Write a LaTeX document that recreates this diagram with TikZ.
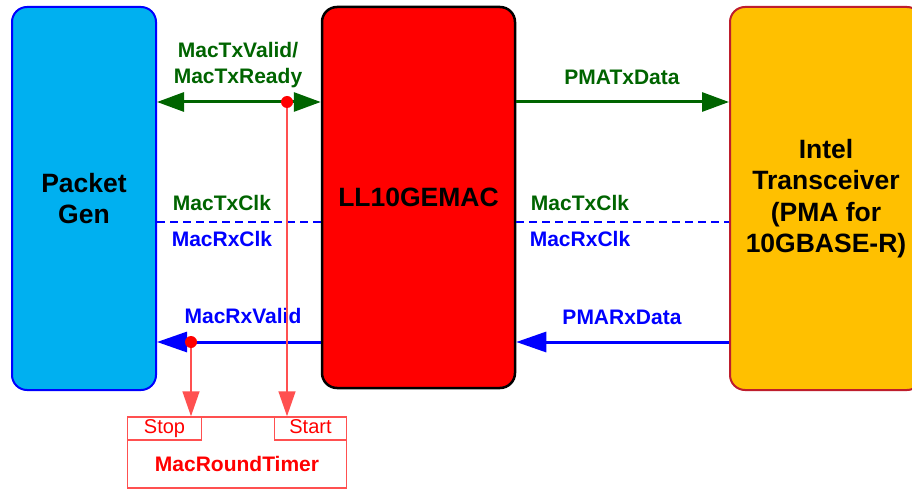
\documentclass[tikz,border=0pt]{standalone}
\usepackage{fontspec}
\setmainfont{Liberation Sans}
\usetikzlibrary{arrows.meta}
\usetikzlibrary{positioning}
\definecolor{busgreen}{RGB}{0,100,0}
\definecolor{gencyan}{RGB}{0,176,240}
\definecolor{xcvrorange}{RGB}{255,192,0}
\definecolor{xcvrborder}{RGB}{190,30,45}
\definecolor{probered}{RGB}{255,80,80}
\tikzset{
  block/.style={draw, rounded corners=15pt, line width=2pt, align=center, inner sep=0pt,
    font=\fontsize{26.5}{31.5}\selectfont\bfseries},
  sig/.style={font=\fontsize{21}{26}\selectfont\bfseries, align=center, inner sep=0pt},
  bigtip/.tip={Triangle[length=27pt,width=19pt]},
  rxtip/.tip={Triangle[length=30pt,width=20pt]},
  txbus/.style={busgreen, line width=3pt},
  rxbus/.style={blue, line width=3pt},
  clkline/.style={blue, line width=1.2pt, dash pattern=on 8pt off 5pt},
  probe/.style={probered, line width=1.5pt, -{Triangle[length=25pt,width=17pt]}},
  tap/.style={circle, fill=red, minimum size=12pt, inner sep=0pt},
  tbox/.style={draw=probered, line width=1.5pt, inner sep=0pt, text=red},
  port/.style={tbox, minimum height=23pt, text height=14pt, text depth=4pt,
    font=\fontsize{20}{20}\selectfont}
}

\begin{document}
\begin{tikzpicture}[x=1pt, y=-1pt]
  \useasboundingbox (0,0) rectangle (912,489);

  % blocks
  \node [block, fill=gencyan, draw=blue, minimum width=144pt, minimum height=383pt] (gen) at (84,198.5) {Packet\\Gen};
  \node [block, fill=red, draw=black, line width=2.5pt, minimum width=193pt, minimum height=381pt] (mac) at (418.5,197.5) {LL10GEMAC};
  \node [block, fill=xcvrorange, draw=xcvrborder, minimum width=192pt, minimum height=383pt] (xcvr) at (826,198.5) {Intel\\Transceiver\\(PMA for\\10GBASE-R)};

  \coordinate (txrow) at (0,102);
  \coordinate (clkrow) at (0,222);
  \coordinate (rxrow) at (0,342);

  % tx side
  \draw [txbus, bigtip-bigtip] (gen.east |- txrow) -- (mac.west |- txrow);
  \draw [txbus, -bigtip] (mac.east |- txrow) -- (xcvr.west |- txrow);

  % clocks
  \draw [clkline] (gen.east |- clkrow) -- (mac.west |- clkrow);
  \draw [clkline] (mac.east |- clkrow) -- (xcvr.west |- clkrow);

  % rx side
  \draw [rxbus, -rxtip] (mac.west |- rxrow) -- (gen.east |- rxrow);
  \draw [rxbus, -rxtip] (xcvr.west |- rxrow) -- (mac.east |- rxrow);

  % labels
  \node [sig, text=busgreen] (txvalid) at (238,65) {MacTxValid/\\MacTxReady};
  \node [sig, text=busgreen] (pmatx) at (622,77) {PMATxData};
  \node [sig, text=busgreen] (txclka) at (222,203) {MacTxClk};
  \node [sig, text=blue] (rxclka) at (222,239) {MacRxClk};
  \node [sig, text=busgreen] (txclkb) at (580,203) {MacTxClk};
  \node [sig, text=blue] (rxclkb) at (580,239) {MacRxClk};
  \node [sig, text=blue] (rxvalid) at (243,316) {MacRxValid};
  \node [sig, text=blue] (pmarx) at (622,317) {PMARxData};

  % timer
  \node [tbox, minimum width=219pt, minimum height=71pt] (timer) at (237,452.5) {};
  \node [port, minimum width=74pt, anchor=north west] (stop) at (timer.north west) {Stop};
  \node [port, minimum width=72pt, anchor=north east] (start) at (timer.north east) {Start};
  \node [sig, text=red] (timername) at (237,464) {MacRoundTimer};

  % probes
  \node [tap] (tapa) at (287,102) {};
  \node [tap] (tapb) at (191,342) {};
  \draw [probe] (tapa) -- (start.north -| tapa);
  \draw [probe] (tapb) -- (stop.north -| tapb);
\end{tikzpicture}
\end{document}
